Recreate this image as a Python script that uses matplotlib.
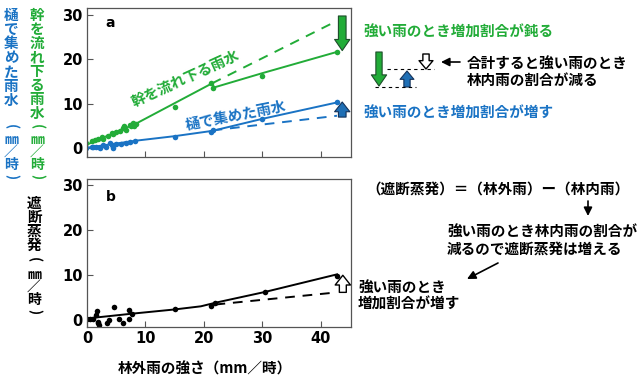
import matplotlib
matplotlib.use("Agg")
import matplotlib.pyplot as plt
from matplotlib.lines import Line2D

plt.rcParams['font.family'] = ['Noto Sans CJK JP', 'DejaVu Sans']
plt.rcParams['font.weight'] = 'bold'

GREEN = '#22ac38'
BLUE = '#1a73c4'

# ---- data (mm/h) ----
trunk_x = [-0.1, 0.8, 1.3, 1.9, 2.5, 2.7, 3.6, 4.2, 4.4, 5.0, 5.6, 6.2, 6.4, 6.7, 7.3, 7.6, 7.9, 8.1, 8.4,
           15.0, 21.3, 21.6, 29.9, 42.8]
trunk_y = [1.1, 1.5, 1.9, 2.0, 2.5, 2.1, 2.7, 3.4, 3.1, 3.6, 3.8, 4.5, 5.0, 4.2, 5.3, 4.9, 5.6, 5.0, 5.4,
           9.2, 14.6, 13.6, 16.3, 21.6]
trunk_fit_x = [0, 8.5, 21.4, 21.8, 30.0, 42.8]
trunk_fit_y = [0.8, 5.6, 14.6, 13.7, 16.9, 21.7]
trunk_lin_x = [21.4, 42.8]
trunk_lin_y = [14.6, 28.7]

gutter_x = [-0.1, 0.8, 1.0, 1.6, 2.2, 2.7, 3.3, 3.9, 4.2, 4.4, 5.0, 5.9, 6.7, 7.3, 8.2,
            15.1, 21.3, 21.6, 30.0, 42.8]
gutter_y = [0.0, 0.2, 0.3, 0.3, 0.1, 0.7, 0.3, 1.2, 0.7, 0.1, 1.0, 1.0, 1.1, 1.4, 1.6,
            2.6, 3.6, 4.1, 6.6, 10.4]
gutter_fit_x = [0, 8.5, 15.0, 21.5, 30.0, 42.8]
gutter_fit_y = [0.1, 1.7, 2.7, 3.9, 6.6, 10.3]
gutter_lin_x = [21.5, 42.8]
gutter_lin_y = [4.0, 7.3]

evap_x = [0.0, 0.45, 1.1, 1.5, 1.7, 1.8, 1.9, 2.1, 3.4, 3.7, 4.7, 5.4, 6.2, 7.2, 7.2, 7.7,
          15.1, 21.3, 21.9, 30.5, 42.8]
evap_y = [0.2, 0.2, 0.1, 0.96, 1.9, -0.75, -0.4, -1.1, -0.6, 0.0, 2.8, 0.1, -0.7, 2.2, 0.1, 1.4,
          2.5, 3.1, 3.7, 6.2, 9.8]
evap_fit_x = [0, 8.0, 15.0, 19.5, 22.0, 30.5, 42.8]
evap_fit_y = [0.3, 1.4, 2.3, 3.0, 3.8, 6.2, 10.1]
evap_lin_x = [22.0, 42.8]
evap_lin_y = [3.4, 6.1]

xticks = [0, 10, 20, 30, 40]
yticks = [0, 10, 20, 30]

W, H = 640, 378
fig = plt.figure(figsize=(W / 100, H / 100), dpi=100)


def fx(px):
    return px / W


def fy(py):
    return 1 - py / H


axa = fig.add_axes([fx(87), fy(157), fx(264), 149 / H])
axb = fig.add_axes([fx(87), fy(327), fx(264), 148 / H])

for ax, ylo, yhi in ((axa, -2.0, 31.6), (axb, -1.6, 31.3)):
    ax.set_xlim(0, 45.2)
    ax.set_ylim(ylo, yhi)
    ax.set_xticks(xticks)
    ax.set_yticks(yticks)
    ax.tick_params(direction='in', length=4, width=0.8, color='#555555', labelsize=10.5, pad=3)
    for lab in ax.get_xticklabels() + ax.get_yticklabels():
        lab.set_fontweight('bold')
        lab.set_family('DejaVu Sans')
    for s in ax.spines.values():
        s.set_color('#555555')
        s.set_linewidth(0.9)
axa.set_xticklabels([])

# panel a
axa.plot(trunk_fit_x, trunk_fit_y, color=GREEN, lw=1.4)
axa.plot(trunk_lin_x, trunk_lin_y, color=GREEN, lw=1.4, ls=(0, (5, 4)))
axa.plot(trunk_x, trunk_y, 'o', color=GREEN, ms=4, mec='none')
axa.plot(gutter_fit_x, gutter_fit_y, color=BLUE, lw=1.4)
axa.plot(gutter_lin_x, gutter_lin_y, color=BLUE, lw=1.4, ls=(0, (5, 4)))
axa.plot(gutter_x, gutter_y, 'o', color=BLUE, ms=4, mec='none')
axa.text(0.07, 0.9, 'a', transform=axa.transAxes, fontsize=10, fontweight='bold',
         family='DejaVu Sans', va='center')
axa.text(16.8, 15.8, '幹を流れ下る雨水', color=GREEN, fontsize=10.5, fontweight='bold',
         rotation=24.5, ha='center', va='center', rotation_mode='anchor')
axa.text(25.4, 7.5, '樋で集めた雨水', color=BLUE, fontsize=10.5, fontweight='bold',
         rotation=11, ha='center', va='center', rotation_mode='anchor')

arr = "simple,head_length=0.8,head_width=1.1,tail_width=0.55"
axa.annotate('', xy=(43.7, 22.0), xytext=(43.7, 29.8),
             arrowprops=dict(arrowstyle=arr, fc=GREEN, ec='#1d4d2a', lw=0.8,
                             mutation_scale=10, shrinkA=0, shrinkB=0), annotation_clip=False)
axa.annotate('', xy=(43.7, 10.4), xytext=(43.7, 7.0),
             arrowprops=dict(arrowstyle="simple,head_length=0.7,head_width=1.1,tail_width=0.55",
                             fc='#1f6fb5', ec='#14325a', lw=0.8,
                             mutation_scale=10, shrinkA=0, shrinkB=0), annotation_clip=False)

# panel b
axb.plot(evap_fit_x, evap_fit_y, color='black', lw=1.4)
axb.plot(evap_lin_x, evap_lin_y, color='black', lw=1.4, ls=(0, (5, 4)))
axb.plot(evap_x, evap_y, 'o', color='black', ms=4, mec='none')
axb.text(0.07, 0.88, 'b', transform=axb.transAxes, fontsize=10, fontweight='bold',
         family='DejaVu Sans', va='center')
axb.annotate('', xy=(43.8, 9.9), xytext=(43.8, 6.1),
             arrowprops=dict(arrowstyle="simple,head_length=0.7,head_width=1.1,tail_width=0.5",
                             fc='white', ec='black', lw=1.0,
                             mutation_scale=10, shrinkA=0, shrinkB=0), annotation_clip=False)
axb.set_xlabel('林外雨の強さ（mm／時）', fontsize=10.5, fontweight='bold')
axb.xaxis.set_label_coords((205 - 87) / 264, -(361 - 327) / 148)


# vertical y-labels
def vtext(x, centers, chars, color, fsz=10.5):
    for c, yy in zip(chars, centers):
        rot = -90 if c in '()' else 0
        fig.text(fx(x), fy(yy), c, color=color, fontsize=fsz, fontweight='bold',
                 ha='center', va='center', rotation=rot)


paren = ['(', '㎜', '／', '時', ')']
paren_y = [127, 140, 153, 165, 177]
vtext(11, [15 + 14.2 * i for i in range(7)], list('樋で集めた雨水'), BLUE)
vtext(11, paren_y, paren, BLUE, 10)
vtext(37, [15 + 14 * i for i in range(8)], list('幹を流れ下る雨水'), GREEN)
vtext(37, paren_y, paren, GREEN, 10)
vtext(34, [203, 217, 231, 245], list('遮断蒸発'), 'black')
vtext(34, [260, 275, 288, 300, 312], paren, 'black', 10)

# right-side annotations (top)
fs = 10.5
fig.text(fx(363), fy(32), '強い雨のとき増加割合が鈍る', color=GREEN, fontsize=fs,
         fontweight='bold', va='center')
fig.text(fx(363), fy(113), '強い雨のとき増加割合が増す', color=BLUE, fontsize=fs,
         fontweight='bold', va='center')
fig.text(fx(467), fy(63), '合計すると強い雨のとき', fontsize=fs, fontweight='bold', va='center')
fig.text(fx(467), fy(80), '林内雨の割合が減る', fontsize=fs, fontweight='bold', va='center')


def farrow(x0, y0, x1, y1, style, fc, ec, lw=0.8):
    axa.annotate('', xy=(fx(x1), fy(y1)), xytext=(fx(x0), fy(y0)),
                 xycoords='figure fraction', textcoords='figure fraction',
                 arrowprops=dict(arrowstyle=style, fc=fc, ec=ec, lw=lw, mutation_scale=10,
                                 shrinkA=0, shrinkB=0), annotation_clip=False)


farrow(379, 52, 379, 86, "simple,head_length=0.8,head_width=1.1,tail_width=0.45", GREEN, '#1d4d2a')
farrow(407, 87, 407, 71, "simple,head_length=0.6,head_width=1.0,tail_width=0.45", '#1f6fb5', '#14325a')
farrow(426, 54, 426, 69, "simple,head_length=0.6,head_width=1.0,tail_width=0.45", 'white', 'black', 1.0)
farrow(460, 62, 441, 62, "-|>,head_length=0.5,head_width=0.25", 'black', 'black', 1.2)

for (x0, x1, y) in ((375, 416, 87), (387, 434, 69)):
    fig.add_artist(Line2D([fx(x0), fx(x1)], [fy(y), fy(y)], transform=fig.transFigure,
                          color='black', lw=0.8, ls=(0, (3, 3))))

# right-side annotations (bottom)
fig.text(fx(498), fy(189), '（遮断蒸発）＝（林外雨）ー（林内雨）', fontsize=fs, fontweight='bold',
         ha='center', va='center')
farrow(588, 201, 588, 216, "-|>,head_length=0.5,head_width=0.25", 'black', 'black', 1.2)
fig.text(fx(447), fy(231), '強い雨のとき林内雨の割合が', fontsize=fs, fontweight='bold', va='center')
fig.text(fx(447), fy(249), '減るので遮断蒸発は増える', fontsize=fs, fontweight='bold', va='center')
farrow(498, 263, 467, 279, "-|>,head_length=0.5,head_width=0.25", 'black', 'black', 1.2)
fig.text(fx(358), fy(287), '強い雨のとき', fontsize=fs, fontweight='bold', va='center')
fig.text(fx(358), fy(304), '増加割合が増す', fontsize=fs, fontweight='bold', va='center')

fig.savefig('out.png', dpi=100)
